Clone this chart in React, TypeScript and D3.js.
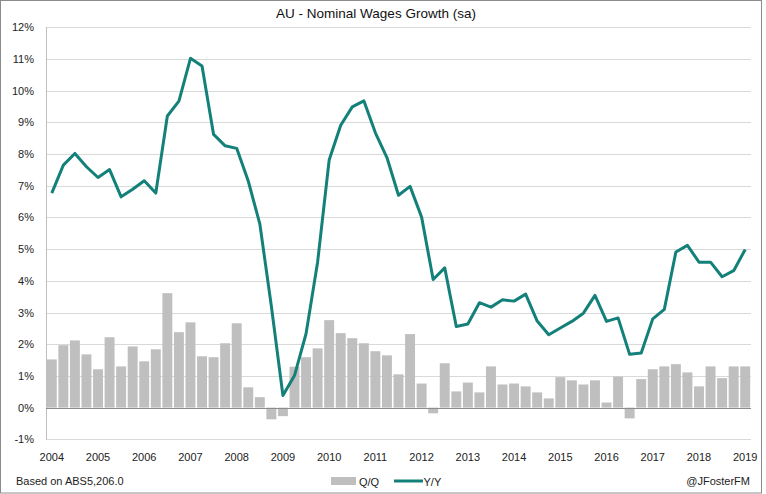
import React from "react";
import * as d3 from "d3";

const years = [2004, 2005, 2006, 2007, 2008, 2009, 2010, 2011, 2012, 2013, 2014, 2015, 2016, 2017, 2018, 2019];
const quarters = ["Q1", "Q2", "Q3", "Q4"];
const categories: string[] = years.flatMap((yr) => quarters.map((q) => `${yr}${q}`)).slice(0, 61);

const qoq = [
  1.52, 1.97, 2.12, 1.68, 1.21, 2.22, 1.30, 1.93, 1.46, 1.84,
  3.61, 2.38, 2.69, 1.62, 1.59, 2.03, 2.66, 0.64, 0.33, -0.37,
  -0.27, 1.29, 1.59, 1.87, 2.76, 2.35, 2.19, 2.03, 1.78, 1.65,
  1.05, 2.32, 0.76, -0.18, 1.40, 0.51, 0.79, 0.48, 1.30, 0.73,
  0.76, 0.67, 0.48, 0.29, 0.96, 0.86, 0.73, 0.86, 0.16, 0.98,
  -0.34, 0.90, 1.21, 1.30, 1.37, 1.11, 0.67, 1.30, 0.93, 1.30, 1.30,
];

const yoy = [
  6.77, 7.65, 8.02, 7.60, 7.26, 7.51, 6.65, 6.89, 7.16, 6.77,
  9.20, 9.67, 11.02, 10.78, 8.62, 8.26, 8.18, 7.15, 5.80, 3.20,
  0.38, 1.01, 2.33, 4.59, 7.81, 8.91, 9.49, 9.68, 8.67, 7.89,
  6.70, 6.98, 6.01, 4.04, 4.41, 2.56, 2.64, 3.31, 3.17, 3.40,
  3.36, 3.58, 2.73, 2.30, 2.51, 2.72, 2.98, 3.54, 2.72, 2.83,
  1.68, 1.72, 2.80, 3.10, 4.91, 5.12, 4.59, 4.59, 4.13, 4.32, 4.99,
];

const yTicks = [-1, 0, 1, 2, 3, 4, 5, 6, 7, 8, 9, 10, 11, 12];
const xTickLabels = years.map(String);

const title = "AU - Nominal Wages Growth (sa)";
const sourceText = "Based on ABS5,206.0";
const creditText = "@JFosterFM";

const W = 766;
const H = 494;
const font = "'Liberation Sans', Arial, sans-serif";
const teal = "#138079";
const barColor = "#bfbfbf";

export default function App() {
  const x = d3
    .scaleBand<string>()
    .domain(categories)
    .range([46, 751])
    .paddingInner(0.14)
    .paddingOuter(0.07);
  const y = d3.scaleLinear().domain([-1, 12]).range([439.3, 27.3]);
  const bw = x.bandwidth();
  const cx = (i: number) => (x(categories[i]) as number) + bw / 2;

  const line = d3
    .line<number>()
    .x((_, i) => cx(i))
    .y((d) => y(d));

  return (
    <svg
      width={W}
      height={H}
      style={{ position: "fixed", left: 0, top: 0, background: "#fff" }}
      fontFamily={font}
    >
      <rect x={0.5} y={0.5} width={761} height={492.5} fill="#fff" stroke="#8c8c8c" strokeWidth={1} />
      <text x={376} y={18} textAnchor="middle" fontSize={13.5} fill="#111">
        {title}
      </text>
      {yTicks.map((t) => (
        <g key={t}>
          {t !== 0 && (
            <line x1={46} x2={751} y1={Math.round(y(t)) + 0.5} y2={Math.round(y(t)) + 0.5} stroke="#d9d9d9" strokeWidth={1} />
          )}
          <text x={34} y={y(t) + 4} textAnchor="end" fontSize={11} fill="#222">
            {`${t}%`}
          </text>
        </g>
      ))}
      <line x1={46.5} x2={46.5} y1={27} y2={439.5} stroke="#bfbfbf" strokeWidth={1} />
      {qoq.map((v, i) => (
        <rect
          key={i}
          x={x(categories[i]) as number}
          y={Math.min(y(v), y(0))}
          width={bw}
          height={Math.abs(y(v) - y(0))}
          fill={barColor}
        />
      ))}
      <line x1={46} x2={751} y1={Math.round(y(0)) + 0.5} y2={Math.round(y(0)) + 0.5} stroke="#8c8c8c" strokeWidth={1} />
      <path d={line(yoy) || ""} fill="none" stroke={teal} strokeWidth={3} strokeLinejoin="round" />
      {xTickLabels.map((lab, k) => (
        <text key={lab} x={cx(k * 4)} y={461} textAnchor="middle" fontSize={11} fill="#222">
          {lab}
        </text>
      ))}
      <rect x={331} y={477} width={25} height={8} fill={barColor} />
      <text x={359} y={485.5} fontSize={11} fill="#222">Q/Q</text>
      <line x1={394} x2={423} y1={481} y2={481} stroke={teal} strokeWidth={3} />
      <text x={423.5} y={485.5} fontSize={11} fill="#222">Y/Y</text>
      <text x={16} y={485} fontSize={11} fill="#222">{sourceText}</text>
      <text x={750} y={485} textAnchor="end" fontSize={11} fill="#222">{creditText}</text>
    </svg>
  );
}
